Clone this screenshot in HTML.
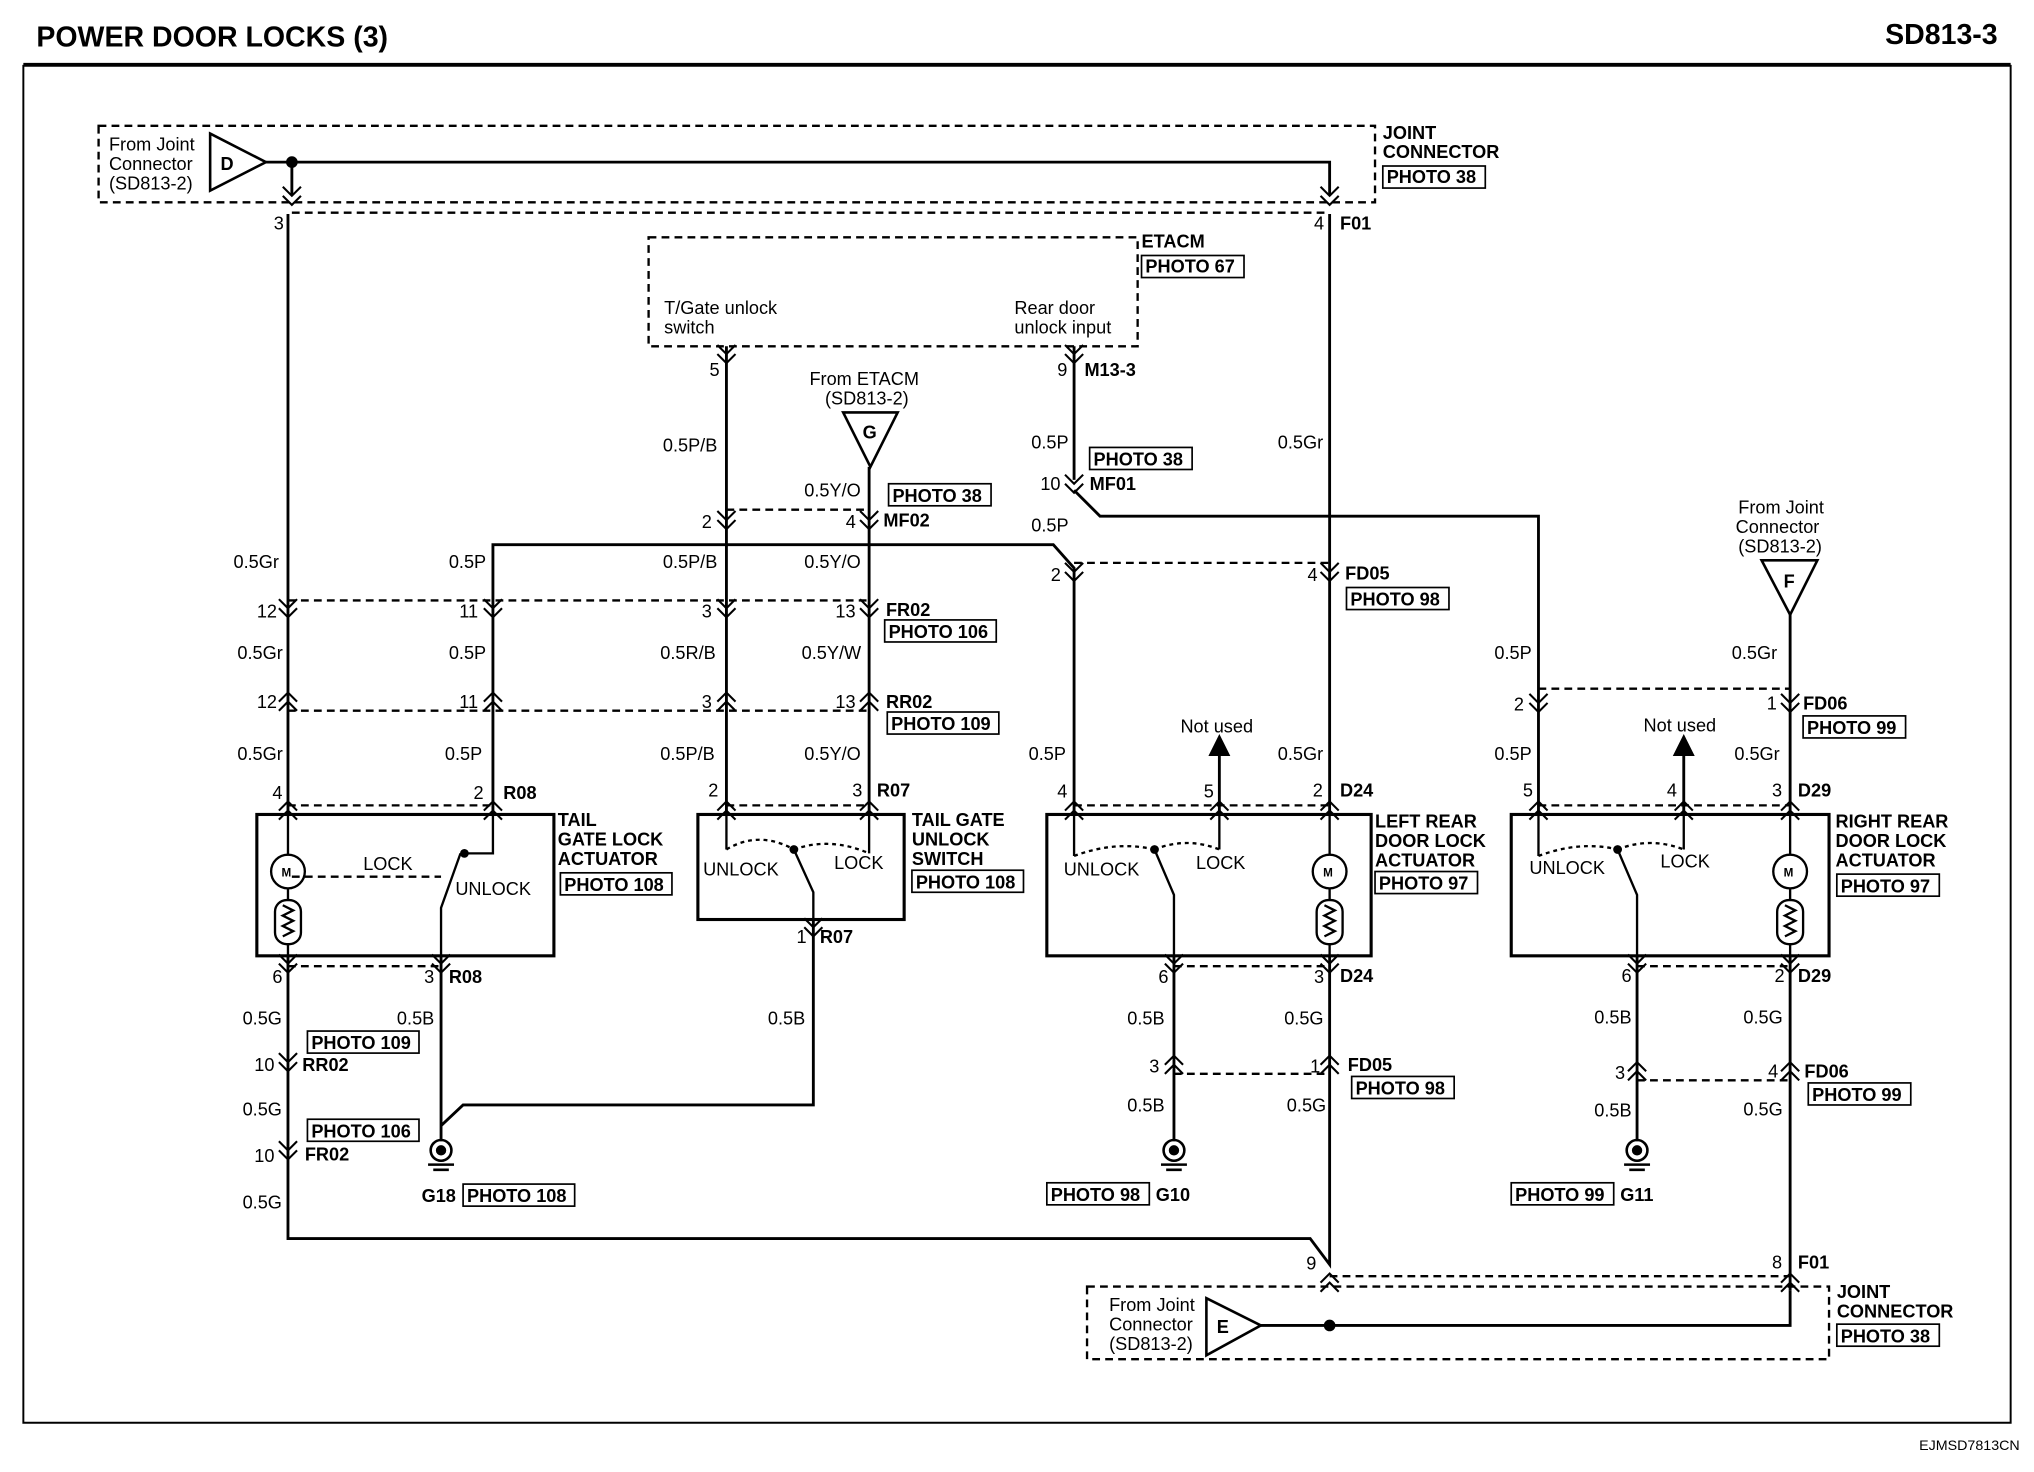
<!DOCTYPE html>
<html><head><meta charset="utf-8"><style>
html,body{margin:0;padding:0;background:#fff}
svg{display:block}
text{font-family:"Liberation Sans",Arial,sans-serif;font-size:14px;fill:#000}
.b{font-weight:bold}
</style></head><body>
<svg width="2034" height="1472" viewBox="0 0 1568 1135" preserveAspectRatio="none" xmlns="http://www.w3.org/2000/svg">
<defs>
<path id="d" d="M-7,-6 L0,1 L7,-6 M-7,1 L0,8 L7,1" fill="none" stroke="#000" stroke-width="1.6"/>
<path id="u" d="M-7,6 L0,-1 L7,6 M-7,-1 L0,-8 L7,-1" fill="none" stroke="#000" stroke-width="1.6"/>
</defs>
<g fill="none" stroke="#000">
<!-- frame -->
<line x1="18" y1="50" x2="1550" y2="50" stroke-width="3"/>
<polyline points="18,50 18,1097 1550,1097 1550,50" stroke-width="1.5"/>
<!-- dashed boxes -->
<g stroke-dasharray="6,4" stroke-width="1.8">
<rect x="76" y="97" width="984" height="59"/>
<line x1="225" y1="164" x2="1025" y2="164"/>
<rect x="500" y="183" width="377" height="84"/>
<line x1="560" y1="393" x2="670" y2="393"/>
<line x1="828" y1="434" x2="1025" y2="434"/>
<line x1="222" y1="463" x2="670" y2="463"/>
<line x1="222" y1="548" x2="670" y2="548"/>
<line x1="1186" y1="531" x2="1380" y2="531"/>
<line x1="222" y1="621" x2="380" y2="621"/>
<line x1="560" y1="621" x2="670" y2="621"/>
<line x1="828" y1="621" x2="1025" y2="621"/>
<line x1="1186" y1="621" x2="1380" y2="621"/>
<line x1="222" y1="745" x2="340" y2="745"/>
<line x1="905" y1="745" x2="1025" y2="745"/>
<line x1="1262" y1="745" x2="1380" y2="745"/>
<line x1="905" y1="828" x2="1025" y2="828"/>
<line x1="1262" y1="833" x2="1380" y2="833"/>
<line x1="225" y1="676" x2="340" y2="676"/>
<line x1="1025" y1="984" x2="1380" y2="984"/>
<rect x="838" y="992" width="572" height="56"/>
</g>
<!-- wires -->
<g stroke-width="2.2">
<polyline points="205,125 1025,125 1025,150"/>
<line x1="225" y1="125" x2="225" y2="150"/>
<line x1="222" y1="165" x2="222" y2="628"/>
<line x1="1025" y1="165" x2="1025" y2="628"/>
<line x1="560" y1="267" x2="560" y2="628"/>
<line x1="828" y1="267" x2="828" y2="370"/>
<polyline points="828,378 848,398 1186,398 1186,628"/>
<polyline points="380,628 380,420 812,420 828,438 828,628"/>
<line x1="670" y1="360" x2="670" y2="628"/>
<line x1="1380" y1="473" x2="1380" y2="628"/>
<line x1="940" y1="580" x2="940" y2="628"/>
<line x1="1298" y1="580" x2="1298" y2="628"/>
<polyline points="222,737 222,955 1010,955 1025,975 1025,737"/>
<line x1="340" y1="737" x2="340" y2="880"/>
<polyline points="627,709 627,852 357,852 340,868"/>
<line x1="905" y1="737" x2="905" y2="880"/>
<line x1="1262" y1="737" x2="1262" y2="880"/>
<polyline points="1380,737 1380,995"/>
<polyline points="972,1022 1380,1022 1380,995"/>
</g>
<!-- triangles -->
<g stroke-width="2">
<polygon points="162,103 205,125 162,147"/>
<polygon points="650,318 692,318 671,360"/>
<polygon points="1358,432 1401,432 1380,474"/>
<polygon points="930,1001 972,1022 930,1045"/>
</g>
<!-- component boxes -->
<g stroke-width="2.4">
<rect x="198" y="628" width="229" height="109"/>
<rect x="538" y="628" width="159" height="81"/>
<rect x="807" y="628" width="250" height="109"/>
<rect x="1165" y="628" width="245" height="109"/>
</g>
<!-- motors -->
<g stroke-width="1.8">
<circle cx="222" cy="672" r="13"/><rect x="212" y="694" width="20" height="34" rx="9"/>
<circle cx="1025" cy="672" r="13"/><rect x="1015" y="694" width="20" height="34" rx="9"/>
<circle cx="1380" cy="672" r="13"/><rect x="1370" y="694" width="20" height="34" rx="9"/>
<path d="M222,628 V659 M222,685 V694 M222,728 V737 M1025,628 V659 M1025,685 V694 M1025,728 V737 M1380,628 V659 M1380,685 V694 M1380,728 V737"/>
<path d="M218,698 l8,4 -8,4 8,4 -8,4 8,4 -8,4 M1021,698 l8,4 -8,4 8,4 -8,4 8,4 -8,4 M1376,698 l8,4 -8,4 8,4 -8,4 8,4 -8,4"/>
<!-- switches -->
<path d="M380,628 V658 H358 M340,737 V700 L355,658 M560,628 V655 M670,628 V658 M627,709 V688 L612,655 M828,628 V660 M940,628 V655 M905,737 V690 L890,655 M1186,628 V660 M1298,628 V655 M1262,737 V690 L1247,655"/>
<path d="M560,655 Q585,640 612,655 M612,655 Q640,645 670,658 M828,660 Q860,648 890,655 M890,655 Q915,645 940,655 M1186,660 Q1218,648 1247,655 M1247,655 Q1272,645 1298,655" stroke-dasharray="3,3"/>
<circle cx="358" cy="658" r="2.5" fill="#000"/><circle cx="612" cy="655" r="2.5" fill="#000"/><circle cx="890" cy="655" r="2.5" fill="#000"/><circle cx="1247" cy="655" r="2.5" fill="#000"/>
<!-- not used arrows -->
<polygon points="933,582 947,582 940,568" fill="#000"/><polygon points="1291,582 1305,582 1298,568" fill="#000"/>
</g>
<!-- grounds -->
<g stroke-width="2">
<circle cx="340" cy="887" r="8"/><circle cx="340" cy="887" r="3" fill="#000"/><path d="M330,898 h20 M334,902 h12"/>
<circle cx="905" cy="887" r="8"/><circle cx="905" cy="887" r="3" fill="#000"/><path d="M895,898 h20 M899,902 h12"/>
<circle cx="1262" cy="887" r="8"/><circle cx="1262" cy="887" r="3" fill="#000"/><path d="M1252,898 h20 M1256,902 h12"/>
</g>
<!-- photo boxes -->
<g stroke-width="1.3">
<rect x="1066" y="128" width="79" height="17"/><rect x="880" y="197" width="79" height="17"/>
<rect x="840" y="345" width="79" height="17"/><rect x="685" y="373" width="79" height="17"/>
<rect x="1038" y="453" width="79" height="17"/><rect x="682" y="478" width="86" height="17"/>
<rect x="684" y="549" width="86" height="17"/><rect x="1390" y="552" width="79" height="17"/>
<rect x="432" y="673" width="86" height="17"/><rect x="703" y="671" width="86" height="17"/>
<rect x="1060" y="672" width="79" height="17"/><rect x="1416" y="674" width="79" height="17"/>
<rect x="237" y="795" width="86" height="17"/><rect x="1042" y="830" width="79" height="17"/>
<rect x="1394" y="835" width="79" height="17"/><rect x="237" y="863" width="86" height="17"/>
<rect x="357" y="913" width="86" height="17"/><rect x="807" y="912" width="79" height="17"/>
<rect x="1165" y="912" width="79" height="17"/><rect x="1416" y="1021" width="79" height="17"/>
</g>
</g>
<circle cx="225" cy="125" r="4.5" fill="#000"/><circle cx="1025" cy="1022" r="4.5" fill="#000"/>
<!-- chevrons -->
<use href="#d" x="225" y="150"/><use href="#d" x="1025" y="150"/>
<use href="#d" x="560" y="272"/><use href="#d" x="828" y="272"/>
<use href="#d" x="828" y="372"/><use href="#d" x="560" y="400"/><use href="#d" x="670" y="400"/>
<use href="#d" x="828" y="440"/><use href="#d" x="1025" y="440"/>
<use href="#d" x="222" y="468"/><use href="#d" x="380" y="468"/><use href="#d" x="560" y="468"/><use href="#d" x="670" y="468"/>
<use href="#u" x="222" y="542"/><use href="#u" x="380" y="542"/><use href="#u" x="560" y="542"/><use href="#u" x="670" y="542"/>
<use href="#d" x="1186" y="541"/><use href="#d" x="1380" y="541"/>
<use href="#u" x="222" y="626"/><use href="#u" x="380" y="626"/><use href="#u" x="560" y="626"/><use href="#u" x="670" y="626"/>
<use href="#u" x="828" y="626"/><use href="#u" x="940" y="626"/><use href="#u" x="1025" y="626"/>
<use href="#u" x="1186" y="626"/><use href="#u" x="1298" y="626"/><use href="#u" x="1380" y="626"/>
<use href="#d" x="222" y="742"/><use href="#d" x="340" y="742"/><use href="#d" x="627" y="714"/>
<use href="#d" x="905" y="742"/><use href="#d" x="1025" y="742"/><use href="#d" x="1262" y="742"/><use href="#d" x="1380" y="742"/>
<use href="#d" x="222" y="818"/><use href="#d" x="222" y="886"/>
<use href="#u" x="905" y="822"/><use href="#u" x="1025" y="822"/><use href="#u" x="1262" y="827"/><use href="#u" x="1380" y="827"/>
<use href="#u" x="1025" y="990"/><use href="#u" x="1380" y="990"/>
<!-- text -->
<text x="28" y="36" class="b" style="font-size:22px">POWER DOOR LOCKS (3)</text>
<text x="1540" y="34" class="b" text-anchor="end" style="font-size:22px">SD813-3</text>
<text x="1557" y="1118" text-anchor="end" style="font-size:11px">EJMSD7813CN</text>
<text x="84" y="116">From Joint</text><text x="84" y="131">Connector</text><text x="84" y="146">(SD813-2)</text>
<text x="170" y="131" class="b">D</text>
<text x="1066" y="107" class="b">JOINT</text><text x="1066" y="122" class="b">CONNECTOR</text><text x="1069" y="141" class="b">PHOTO 38</text>
<text x="211" y="177">3</text><text x="1013" y="177">4</text><text x="1033" y="177" class="b">F01</text>
<text x="880" y="191" class="b">ETACM</text><text x="883" y="210" class="b">PHOTO 67</text>
<text x="512" y="242">T/Gate unlock</text><text x="512" y="257">switch</text>
<text x="782" y="242">Rear door</text><text x="782" y="257">unlock input</text>
<text x="547" y="290">5</text><text x="815" y="290">9</text><text x="836" y="290" class="b">M13-3</text>
<text x="624" y="297">From ETACM</text><text x="636" y="312">(SD813-2)</text><text x="665" y="338" class="b">G</text>
<text x="511" y="348">0.5P/B</text><text x="795" y="346">0.5P</text><text x="985" y="346">0.5Gr</text>
<text x="843" y="359" class="b">PHOTO 38</text>
<text x="802" y="378">10</text><text x="840" y="378" class="b">MF01</text>
<text x="620" y="383">0.5Y/O</text><text x="688" y="387" class="b">PHOTO 38</text>
<text x="541" y="407">2</text><text x="652" y="407">4</text><text x="681" y="406" class="b">MF02</text>
<text x="795" y="410">0.5P</text>
<text x="1340" y="396">From Joint</text><text x="1338" y="411">Connector</text><text x="1340" y="426">(SD813-2)</text>
<text x="1375" y="453" class="b">F</text>
<text x="180" y="438">0.5Gr</text><text x="346" y="438">0.5P</text><text x="511" y="438">0.5P/B</text><text x="620" y="438">0.5Y/O</text>
<text x="810" y="448">2</text><text x="1008" y="448">4</text><text x="1037" y="447" class="b">FD05</text><text x="1041" y="467" class="b">PHOTO 98</text>
<text x="198" y="476">12</text><text x="354" y="476">11</text><text x="541" y="476">3</text><text x="644" y="476">13</text><text x="683" y="475" class="b">FR02</text><text x="685" y="492" class="b">PHOTO 106</text>
<text x="183" y="508">0.5Gr</text><text x="346" y="508">0.5P</text><text x="509" y="508">0.5R/B</text><text x="618" y="508">0.5Y/W</text>
<text x="1152" y="508">0.5P</text><text x="1335" y="508">0.5Gr</text>
<text x="198" y="546">12</text><text x="354" y="546">11</text><text x="541" y="546">3</text><text x="644" y="546">13</text><text x="683" y="546" class="b">RR02</text><text x="687" y="563" class="b">PHOTO 109</text>
<text x="1167" y="548">2</text><text x="1362" y="547">1</text><text x="1390" y="547" class="b">FD06</text><text x="1393" y="566" class="b">PHOTO 99</text>
<text x="910" y="565">Not used</text><text x="1267" y="564">Not used</text>
<text x="183" y="586">0.5Gr</text><text x="343" y="586">0.5P</text><text x="509" y="586">0.5P/B</text><text x="620" y="586">0.5Y/O</text>
<text x="793" y="586">0.5P</text><text x="985" y="586">0.5Gr</text><text x="1152" y="586">0.5P</text><text x="1337" y="586">0.5Gr</text>
<text x="210" y="616">4</text><text x="365" y="616">2</text><text x="388" y="616" class="b">R08</text>
<text x="546" y="614">2</text><text x="657" y="614">3</text><text x="676" y="614" class="b">R07</text>
<text x="815" y="615">4</text><text x="928" y="615">5</text><text x="1012" y="614">2</text><text x="1033" y="614" class="b">D24</text>
<text x="1174" y="614">5</text><text x="1285" y="614">4</text><text x="1366" y="614">3</text><text x="1386" y="614" class="b">D29</text>
<text x="430" y="637" class="b">TAIL</text><text x="430" y="652" class="b">GATE LOCK</text><text x="430" y="667" class="b">ACTUATOR</text><text x="435" y="687" class="b">PHOTO 108</text>
<text x="703" y="637" class="b">TAIL GATE</text><text x="703" y="652" class="b">UNLOCK</text><text x="703" y="667" class="b">SWITCH</text><text x="706" y="685" class="b">PHOTO 108</text>
<text x="1060" y="638" class="b">LEFT REAR</text><text x="1060" y="653" class="b">DOOR LOCK</text><text x="1060" y="668" class="b">ACTUATOR</text><text x="1063" y="686" class="b">PHOTO 97</text>
<text x="1415" y="638" class="b">RIGHT REAR</text><text x="1415" y="653" class="b">DOOR LOCK</text><text x="1415" y="668" class="b">ACTUATOR</text><text x="1419" y="688" class="b">PHOTO 97</text>
<text x="217" y="676" style="font-size:9px" class="b">M</text><text x="1020" y="676" style="font-size:9px" class="b">M</text><text x="1375" y="676" style="font-size:9px" class="b">M</text>
<text x="280" y="671">LOCK</text><text x="351" y="690">UNLOCK</text>
<text x="542" y="675">UNLOCK</text><text x="643" y="670">LOCK</text>
<text x="820" y="675">UNLOCK</text><text x="922" y="670">LOCK</text>
<text x="1179" y="674">UNLOCK</text><text x="1280" y="669">LOCK</text>
<text x="614" y="727">1</text><text x="632" y="727" class="b">R07</text>
<text x="210" y="758">6</text><text x="327" y="758">3</text><text x="346" y="758" class="b">R08</text>
<text x="893" y="758">6</text><text x="1013" y="758">3</text><text x="1033" y="757" class="b">D24</text>
<text x="1250" y="757">6</text><text x="1368" y="757">2</text><text x="1386" y="757" class="b">D29</text>
<text x="187" y="790">0.5G</text><text x="306" y="790">0.5B</text><text x="592" y="790">0.5B</text>
<text x="869" y="790">0.5B</text><text x="990" y="790">0.5G</text><text x="1229" y="789">0.5B</text><text x="1344" y="789">0.5G</text>
<text x="240" y="809" class="b">PHOTO 109</text>
<text x="196" y="826">10</text><text x="233" y="826" class="b">RR02</text>
<text x="886" y="827">3</text><text x="1010" y="827">1</text><text x="1039" y="826" class="b">FD05</text><text x="1045" y="844" class="b">PHOTO 98</text>
<text x="1245" y="832">3</text><text x="1363" y="831">4</text><text x="1391" y="831" class="b">FD06</text><text x="1397" y="849" class="b">PHOTO 99</text>
<text x="187" y="860">0.5G</text><text x="869" y="857">0.5B</text><text x="992" y="857">0.5G</text><text x="1229" y="861">0.5B</text><text x="1344" y="860">0.5G</text>
<text x="240" y="877" class="b">PHOTO 106</text>
<text x="196" y="896">10</text><text x="235" y="895" class="b">FR02</text>
<text x="325" y="927" class="b">G18</text><text x="360" y="927" class="b">PHOTO 108</text>
<text x="810" y="926" class="b">PHOTO 98</text><text x="891" y="926" class="b">G10</text>
<text x="1168" y="926" class="b">PHOTO 99</text><text x="1249" y="926" class="b">G11</text>
<text x="187" y="932">0.5G</text>
<text x="1007" y="979">9</text><text x="1366" y="978">8</text><text x="1386" y="978" class="b">F01</text>
<text x="855" y="1011">From Joint</text><text x="855" y="1026">Connector</text><text x="855" y="1041">(SD813-2)</text>
<text x="938" y="1028" class="b">E</text>
<text x="1416" y="1001" class="b">JOINT</text><text x="1416" y="1016" class="b">CONNECTOR</text><text x="1419" y="1035" class="b">PHOTO 38</text>
</svg>
</body></html>
